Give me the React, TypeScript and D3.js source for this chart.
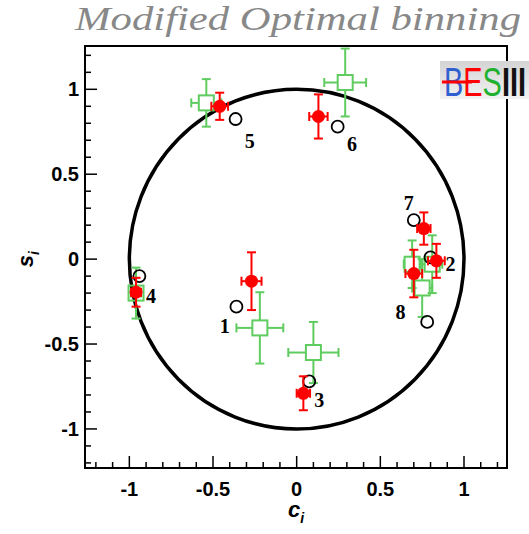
import * as d3 from 'd3'
import { useRef, useEffect } from 'react'

// bin labels
const bins = ['1', '2', '3', '4', '5', '6', '7', '8']

// expected (open black circles)
const predC = [-0.36, 0.8, 0.075, -0.94, -0.365, 0.245, 0.7, 0.78]
const predS = [-0.28, 0.01, -0.72, -0.1, 0.825, 0.78, 0.23, -0.37]

// measured, red
const redC = [-0.27, 0.835, 0.04, -0.96, -0.46, 0.13, 0.76, 0.7]
const redS = [-0.13, -0.01, -0.79, -0.195, 0.9, 0.84, 0.18, -0.085]
const redErrC = [0.06, 0.05, 0.04, 0.03, 0.05, 0.055, 0.04, 0.05]
const redErrS = [0.17, 0.1, 0.1, 0.085, 0.08, 0.13, 0.095, 0.14]

// measured, green
const greenC = [-0.22, 0.81, 0.1, -0.96, -0.54, 0.29, 0.69, 0.75]
const greenS = [-0.405, -0.03, -0.55, -0.2, 0.92, 1.04, -0.03, -0.17]
const greenErrC = [0.14, 0.06, 0.15, 0.03, 0.09, 0.125, 0.05, 0.06]
const greenErrS = [0.21, 0.17, 0.18, 0.15, 0.14, 0.2, 0.14, 0.17]

// where the bin numbers sit (data units)
const labelC = [-0.43, 0.92, 0.135, -0.87, -0.28, 0.33, 0.67, 0.62]
const labelS = [-0.395, -0.03, -0.83, -0.22, 0.695, 0.675, 0.33, -0.31]

const xTicks = [-1, -0.5, 0, 0.5, 1]
const yTicks = [-1, -0.5, 0, 0.5, 1]

const W = 529
const H = 534
const left = 85
const right = 507
const top = 46
const bottom = 468
const RED = '#ff0000'
const GREEN = '#5fcc5f'
const SANS = "'Liberation Sans', Arial, Helvetica, sans-serif"
const SERIF = "'Liberation Serif', 'Times New Roman', Times, serif"

const App = () => {
  const svgRef = useRef(null)

  useEffect(() => {
    const svg = d3.select(svgRef.current)
    svg.selectAll('*').remove() // clear

    const x = d3.scaleLinear().domain([-1.265, 1.257]).range([left, right])
    const y = d3.scaleLinear().domain([-1.23, 1.255]).range([bottom, top])

    // title
    svg
      .append('text')
      .attr('x', 75)
      .attr('y', 30)
      .attr('textLength', 446)
      .attr('lengthAdjust', 'spacingAndGlyphs')
      .attr('font-family', SERIF)
      .attr('font-style', 'italic')
      .attr('font-size', 34)
      .attr('fill', '#888')
      .text('Modified Optimal binning')

    // frame
    svg
      .append('rect')
      .attr('x', left)
      .attr('y', top)
      .attr('width', right - left)
      .attr('height', bottom - top)
      .attr('fill', 'none')
      .attr('stroke', '#000')
      .attr('stroke-width', 2)

    // minor + major ticks, drawn inward
    const minor = d3.range(-12, 13).map(v => v / 10)
    const gT = svg.append('g').attr('stroke', '#000').attr('stroke-width', 1.5)
    minor.forEach(v => {
      const major = Math.abs(v * 2 - Math.round(v * 2)) < 1e-6
      const len = major ? 12 : 6
      if (x(v) > left + 1 && x(v) < right - 1)
        gT.append('line')
          .attr('x1', x(v)).attr('x2', x(v))
          .attr('y1', bottom).attr('y2', bottom - len)
      if (y(v) > top + 1 && y(v) < bottom - 1)
        gT.append('line')
          .attr('x1', left).attr('x2', left + len)
          .attr('y1', y(v)).attr('y2', y(v))
    })

    // tick labels
    const fmt = (v: number) => (v === 0 ? '0' : String(v))
    svg
      .append('g')
      .selectAll('text')
      .data(xTicks)
      .enter()
      .append('text')
      .attr('x', d => x(d))
      .attr('y', 496)
      .attr('text-anchor', 'middle')
      .attr('font-family', SANS)
      .attr('font-weight', 'bold')
      .attr('font-size', 20)
      .text(fmt)
    svg
      .append('g')
      .selectAll('text')
      .data(yTicks)
      .enter()
      .append('text')
      .attr('x', 79)
      .attr('y', d => y(d) + 7)
      .attr('text-anchor', 'end')
      .attr('font-family', SANS)
      .attr('font-weight', 'bold')
      .attr('font-size', 20)
      .text(fmt)

    // axis titles
    const cT = svg
      .append('text')
      .attr('x', 296)
      .attr('y', 517)
      .attr('text-anchor', 'middle')
      .attr('font-family', SANS)
      .attr('font-weight', 'bold')
      .attr('font-style', 'italic')
      .attr('font-size', 22)
    cT.append('tspan').text('c')
    cT.append('tspan').attr('font-size', 14).attr('dy', 6).text('i')

    const sT = svg
      .append('text')
      .attr('transform', `translate(33, ${y(0)}) rotate(-90)`)
      .attr('text-anchor', 'middle')
      .attr('font-family', SANS)
      .attr('font-weight', 'bold')
      .attr('font-style', 'italic')
      .attr('font-size', 22)
    sT.append('tspan').text('s')
    sT.append('tspan').attr('font-size', 14).attr('dy', 6).text('i')

    // unit circle
    svg
      .append('ellipse')
      .attr('cx', x(0))
      .attr('cy', y(0))
      .attr('rx', x(1) - x(0))
      .attr('ry', y(0) - y(1))
      .attr('fill', 'none')
      .attr('stroke', '#000')
      .attr('stroke-width', 3.5)

    // error bars helper, bars start outside the marker
    const errBars = (g, cx, cy, ex, ey, gap, col, w) => {
      const cap = 4.5
      const px = x(cx)
      const py = y(cy)
      const dx = x(cx + ex) - px
      const dy = py - y(cy + ey)
      const seg = (x1, y1, x2, y2) =>
        g.append('line').attr('x1', x1).attr('y1', y1).attr('x2', x2).attr('y2', y2)
          .attr('stroke', col).attr('stroke-width', w)
      if (dx > gap) {
        seg(px + gap, py, px + dx, py)
        seg(px - gap, py, px - dx, py)
      }
      seg(px + dx, py - cap, px + dx, py + cap)
      seg(px - dx, py - cap, px - dx, py + cap)
      if (dy > gap) {
        seg(px, py - gap, px, py - dy)
        seg(px, py + gap, px, py + dy)
      }
      seg(px - cap, py - dy, px + cap, py - dy)
      seg(px - cap, py + dy, px + cap, py + dy)
    }

    // green points
    const gG = svg.append('g')
    bins.forEach((b, i) => {
      errBars(gG, greenC[i], greenS[i], greenErrC[i], greenErrS[i], 7.5, GREEN, 2)
      gG.append('rect')
        .attr('x', x(greenC[i]) - 7.5)
        .attr('y', y(greenS[i]) - 7.5)
        .attr('width', 15)
        .attr('height', 15)
        .attr('fill', 'none')
        .attr('stroke', GREEN)
        .attr('stroke-width', 2)
    })

    // expected points
    svg
      .append('g')
      .selectAll('circle')
      .data(bins)
      .enter()
      .append('circle')
      .attr('cx', (d, i) => x(predC[i]))
      .attr('cy', (d, i) => y(predS[i]))
      .attr('r', 6)
      .attr('fill', 'none')
      .attr('stroke', '#000')
      .attr('stroke-width', 1.8)

    // red points
    const gR = svg.append('g')
    bins.forEach((b, i) => {
      errBars(gR, redC[i], redS[i], redErrC[i], redErrS[i], 0, RED, 2)
      gR.append('circle')
        .attr('cx', x(redC[i]))
        .attr('cy', y(redS[i]))
        .attr('r', 6.5)
        .attr('fill', RED)
    })

    // bin numbers
    svg
      .append('g')
      .selectAll('text')
      .data(bins)
      .enter()
      .append('text')
      .attr('x', (d, i) => x(labelC[i]))
      .attr('y', (d, i) => y(labelS[i]) + 7)
      .attr('text-anchor', 'middle')
      .attr('font-family', SERIF)
      .attr('font-weight', 'bold')
      .attr('font-size', 20)
      .text(d => d)

    // BESIII logo (cut off at the right edge, as in the original)
    const logo = svg.append('g')
    const grad = svg.append('defs').append('linearGradient')
      .attr('id', 'lg').attr('x1', 0).attr('y1', 0).attr('x2', 0).attr('y2', 1)
    grad.append('stop').attr('offset', 0).attr('stop-color', '#d4d4d4')
    grad.append('stop').attr('offset', 1).attr('stop-color', '#f2f2f2')
    logo.append('rect')
      .attr('x', 440).attr('y', 61).attr('width', 89).attr('height', 38)
      .attr('fill', 'url(#lg)')
    const mark = logo.append('text')
      .attr('x', 444).attr('y', 96)
      .attr('textLength', 82)
      .attr('lengthAdjust', 'spacingAndGlyphs')
      .attr('font-family', SANS)
      .attr('font-size', 40)
    mark.append('tspan').attr('fill', '#2f5fd0').text('B')
    mark.append('tspan').attr('fill', RED).text('E')
    mark.append('tspan').attr('fill', '#1fb030').text('S')
    mark.append('tspan').attr('fill', '#111').attr('font-weight', 'bold').text('III')
    logo.append('line')
      .attr('x1', 442).attr('x2', 472).attr('y1', 82).attr('y2', 82)
      .attr('stroke', RED).attr('stroke-width', 3)
  }, [])

  return (
    <svg
      ref={svgRef}
      width={W}
      height={H}
      style={{ position: 'absolute', left: 0, top: 0, background: '#fff' }}
    ></svg>
  )
}

export default App
